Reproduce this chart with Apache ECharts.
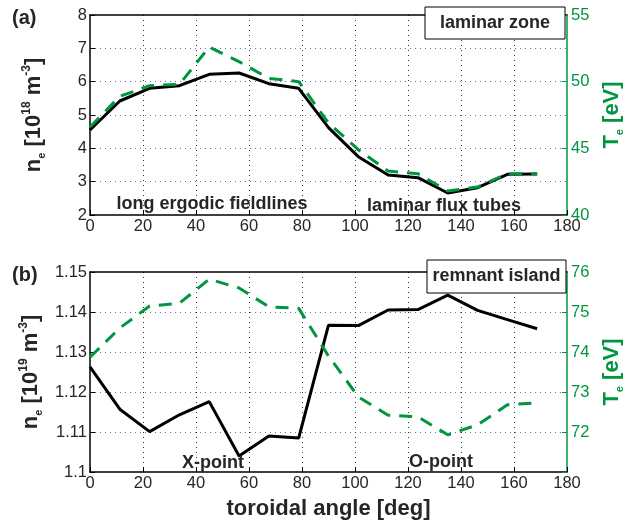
<!DOCTYPE html>
<html>
<head>
<meta charset="utf-8">
<script src="https://cdn.jsdelivr.net/npm/echarts@6/dist/echarts.min.js"></script>
<style>
html,body{margin:0;padding:0;background:#fff;}
#chart{width:641px;height:524px;}
</style>
</head>
<body>
<div id="chart"></div>
<script>
// toroidal angle positions [deg]
var angles = [0, 11.25, 22.5, 33.75, 45, 56.25, 67.5, 78.75, 90, 101.25, 112.5, 123.75, 135, 146.25, 157.5, 168.75];
// (a) laminar zone
var neLaminar = [4.55, 5.42, 5.80, 5.88, 6.22, 6.26, 5.94, 5.80, 4.62, 3.75, 3.20, 3.12, 2.66, 2.82, 3.22, 3.23];
var teLaminar = [46.6, 48.9, 49.7, 49.8, 52.6, 51.5, 50.25, 50.0, 46.9, 44.9, 43.3, 43.1, 41.8, 42.1, 43.1, 43.1];
// (b) remnant island
var neIsland = [1.1263, 1.1157, 1.1101, 1.1143, 1.1176, 1.1040, 1.1090, 1.1085, 1.1367, 1.1366, 1.1405, 1.1406, 1.1442, 1.1404, 1.1381, 1.1358];
var teIsland = [73.87, 74.6, 75.15, 75.22, 75.82, 75.6, 75.13, 75.09, 73.9, 72.88, 72.42, 72.38, 71.93, 72.18, 72.68, 72.73];
// tick settings
var xTicks = {min: 0, max: 180, interval: 20};
var neTopTicks = {min: 2, max: 8, interval: 1};
var teTopTicks = {min: 40, max: 55, interval: 5};
var neBotTicks = {min: 1.1, max: 1.15, interval: 0.01};
var teBotTicks = {min: 71, max: 76, interval: 1};

var FONT = 'Liberation Sans, Arial, Helvetica, sans-serif';
var TXT = '#262626';
var GREEN = '#00963f';

function pairs(xs, ys) { return xs.map(function (x, i) { return [x, ys[i]]; }); }

var chart = echarts.init(document.getElementById('chart'), null, {renderer: 'canvas'});

function xAxisCfg(idx, showName) {
  return {
    type: 'value', gridIndex: idx, position: 'bottom', min: xTicks.min, max: xTicks.max, interval: xTicks.interval,
    axisLine: {show: true, onZero: false, lineStyle: {color: '#000', width: 1.5}},
    axisTick: {show: true, inside: true, length: 5, lineStyle: {color: '#000'}},
    axisLabel: {color: TXT, fontSize: 16.5, fontFamily: FONT, margin: 3},
    splitLine: {show: true, showMinLine: false, showMaxLine: false, lineStyle: {color: '#333', type: [1, 4], width: 1}},
    name: showName ? 'toroidal angle [deg]' : '',
    nameLocation: 'middle', nameGap: 26,
    nameTextStyle: {color: TXT, fontSize: 22, fontWeight: 'bold', fontFamily: FONT}
  };
}

function topAxisCfg(idx) {
  return {
    type: 'value', gridIndex: idx, position: 'top', min: xTicks.min, max: xTicks.max, interval: xTicks.interval,
    axisLine: {show: true, onZero: false, lineStyle: {color: '#000', width: 1.5}},
    axisTick: {show: false}, axisLabel: {show: false}, splitLine: {show: false}
  };
}

function nameRich(color) {
  return {
    b: {fontSize: 22, fontWeight: 'bold', fontFamily: FONT, color: color, lineHeight: 26},
    sup: {fontSize: 12, fontWeight: 'bold', fontFamily: FONT, color: color, verticalAlign: 'top', lineHeight: 12},
    sub: {fontSize: 11, fontWeight: 'bold', fontFamily: FONT, color: color, verticalAlign: 'bottom', lineHeight: 14}
  };
}

function leftAxisCfg(idx, t, exp, fmt) {
  return {
    type: 'value', gridIndex: idx, position: 'left', min: t.min, max: t.max, interval: t.interval,
    axisLine: {show: true, onZero: false, lineStyle: {color: '#000', width: 1.5}},
    axisTick: {show: true, inside: true, length: 5, lineStyle: {color: '#000'}},
    axisLabel: {color: TXT, fontSize: 16.5, fontFamily: FONT, margin: 3, formatter: fmt},
    splitLine: {show: true, showMinLine: false, showMaxLine: false, lineStyle: {color: '#6a6ac4', type: [1, 4], width: 1}},
    name: '{b|n}{sub|e}{b| [10}{sup|' + exp + '}{b| m}{sup|-3}{b|]}',
    nameLocation: 'middle', nameRotate: 90, nameGap: 43,
    nameTextStyle: {rich: nameRich(TXT)}
  };
}

function rightAxisCfg(idx, t, fmt) {
  return {
    type: 'value', gridIndex: idx, position: 'right', min: t.min, max: t.max, interval: t.interval,
    axisLine: {show: true, onZero: false, lineStyle: {color: GREEN, width: 1.5}},
    axisTick: {show: true, inside: true, length: 5, lineStyle: {color: GREEN}},
    axisLabel: {color: GREEN, fontSize: 16.5, fontFamily: FONT, margin: 4, formatter: fmt},
    splitLine: {show: false},
    name: '{b|T}{sub|e}{b| [eV]}',
    nameLocation: 'middle', nameRotate: 90, nameGap: 32,
    nameTextStyle: {rich: nameRich(GREEN)}
  };
}

var boxText = {fontSize: 18, fontWeight: 'bold', fontFamily: FONT, fill: TXT};

var option = {
  animation: false,
  backgroundColor: '#fff',
  grid: [
    {left: 90, top: 15, width: 477, height: 200, show: false},
    {left: 90, top: 272, width: 477, height: 200, show: false}
  ],
  xAxis: [xAxisCfg(0, false), xAxisCfg(1, true), topAxisCfg(0), topAxisCfg(1)],
  yAxis: [
    leftAxisCfg(0, neTopTicks, '18', function (v) { return String(Math.round(v)); }),
    rightAxisCfg(0, teTopTicks, function (v) { return String(Math.round(v)); }),
    leftAxisCfg(1, neBotTicks, '19', function (v) { return String(+v.toFixed(2)); }),
    rightAxisCfg(1, teBotTicks, function (v) { return Math.round(v) === 71 ? '' : String(Math.round(v)); })
  ],
  series: [
    {type: 'line', xAxisIndex: 0, yAxisIndex: 0, data: pairs(angles, neLaminar), symbol: 'none',
      lineStyle: {color: '#000', width: 3}, z: 3},
    {type: 'line', xAxisIndex: 0, yAxisIndex: 1, data: pairs(angles, teLaminar), symbol: 'none',
      lineStyle: {color: GREEN, width: 3, type: [13, 9]}, z: 4},
    {type: 'line', xAxisIndex: 1, yAxisIndex: 2, data: pairs(angles, neIsland), symbol: 'none',
      lineStyle: {color: '#000', width: 3}, z: 3},
    {type: 'line', xAxisIndex: 1, yAxisIndex: 3, data: pairs(angles, teIsland), symbol: 'none',
      lineStyle: {color: GREEN, width: 3, type: [13, 9]}, z: 4}
  ],
  graphic: [
    {type: 'text', left: 12, top: 8, z: 100, style: {text: '(a)', fontSize: 20, fontWeight: 'bold', fontFamily: FONT, fill: TXT}},
    {type: 'text', left: 12, top: 265, z: 100, style: {text: '(b)', fontSize: 20, fontWeight: 'bold', fontFamily: FONT, fill: TXT}},
    {type: 'rect', shape: {x: 425, y: 7, width: 140, height: 32}, z: 100,
      style: {fill: '#fff', stroke: '#000', lineWidth: 1}},
    {type: 'text', x: 495, y: 23, z: 101, style: Object.assign({text: 'laminar zone', textAlign: 'center', textVerticalAlign: 'middle'}, boxText)},
    {type: 'rect', shape: {x: 427, y: 260, width: 139, height: 33}, z: 100,
      style: {fill: '#fff', stroke: '#000', lineWidth: 1}},
    {type: 'text', x: 496.5, y: 276.5, z: 101, style: Object.assign({text: 'remnant island', textAlign: 'center', textVerticalAlign: 'middle'}, boxText)},
    {type: 'text', x: 212, y: 204, z: 101, style: Object.assign({text: 'long ergodic fieldlines', textAlign: 'center', textVerticalAlign: 'middle'}, boxText)},
    {type: 'text', x: 444, y: 206, z: 101, style: Object.assign({text: 'laminar flux tubes', textAlign: 'center', textVerticalAlign: 'middle'}, boxText)},
    {type: 'text', x: 213, y: 463, z: 101, style: Object.assign({text: 'X-point', textAlign: 'center', textVerticalAlign: 'middle'}, boxText)},
    {type: 'text', x: 441, y: 462, z: 101, style: Object.assign({text: 'O-point', textAlign: 'center', textVerticalAlign: 'middle'}, boxText)}
  ]
};
chart.setOption(option);
</script>
</body>
</html>
